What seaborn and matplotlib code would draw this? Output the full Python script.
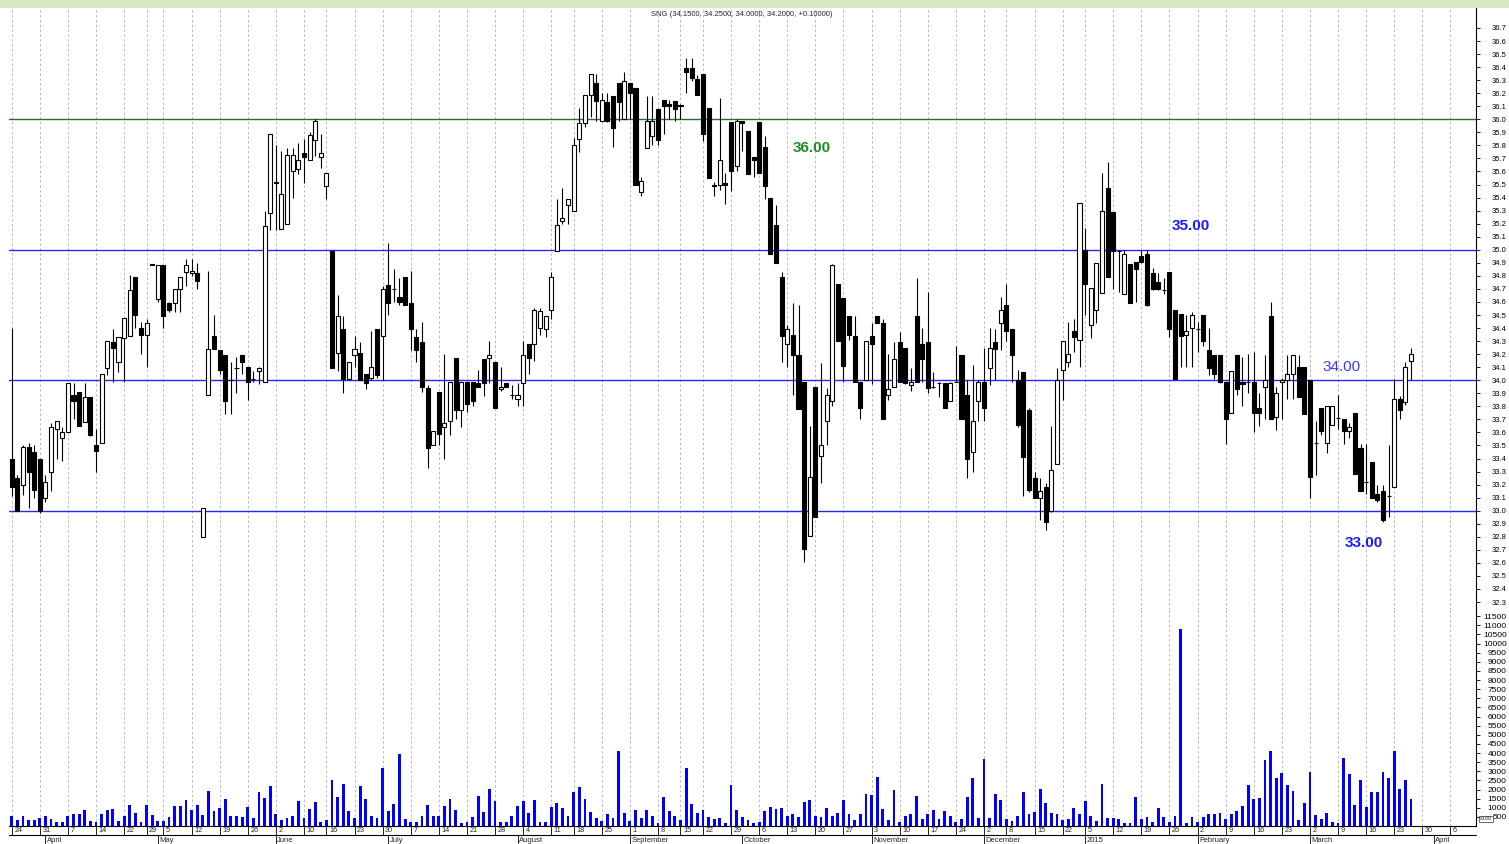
import numpy as np
import pandas as pd
import matplotlib
matplotlib.use("Agg")
import matplotlib.pyplot as plt
import matplotlib.transforms as mtransforms
from matplotlib.patches import Rectangle
from matplotlib.lines import Line2D
import seaborn as sns

# ---------------- data ----------------
open_ = [
    33.40, 33.25, 33.20, 33.49, 33.45, 33.40, 33.10, 33.30, 33.63, 33.56,
    33.60, 33.89, 33.91, 33.68, 33.87, 33.50, 33.52, 34.09, 34.29, 34.14,
    34.32, 34.34, 34.79, 34.40, 34.35, 34.89, 34.62, 34.88, 34.59, 34.59,
    34.70, 34.83, 34.82, 34.82, 32.80, 33.89, 34.34, 34.23, 34.19, 34.00,
    34.09, 34.19, 34.10, 34.01, 34.07, 33.99, 35.28, 35.51, 35.16, 35.20,
    35.60, 35.62, 35.74, 35.69, 35.84, 35.71, 35.49, 34.99, 34.21, 34.39,
    34.01, 34.19, 34.21, 34.05, 34.02, 34.39, 34.34, 34.73, 34.70, 34.64,
    34.79, 34.59, 34.33, 34.29, 33.94, 33.50, 33.91, 33.64, 33.69, 34.17,
    33.77, 33.99, 33.99, 33.98, 34.16, 34.17, 34.14, 33.93, 33.98, 33.89,
    33.86, 33.98, 34.28, 34.28, 34.40, 34.39, 34.54, 34.99, 35.22, 35.34,
    35.30, 35.85, 35.97, 36.19, 36.28, 35.99, 36.13, 36.18, 36.28, 36.00,
    36.28, 36.24, 35.44, 35.78, 35.87, 36.08, 36.15, 36.12, 36.14, 36.11,
    36.39, 36.39, 36.31, 36.35, 36.09, 35.50, 35.50, 35.51, 35.98, 35.64,
    35.99, 35.91, 35.71, 35.98, 35.79, 35.40, 35.19, 34.79, 34.28, 34.35,
    34.19, 33.99, 32.81, 33.95, 33.42, 33.69, 33.84, 34.74, 34.63, 34.49,
    34.34, 33.99, 34.00, 34.34, 34.49, 34.44, 33.89, 33.95, 34.29, 34.25,
    33.96, 34.49, 34.28, 34.29, 33.95, 33.98, 33.98, 33.84, 33.99, 34.19,
    33.89, 33.45, 33.84, 33.99, 34.09, 34.29, 34.44, 34.58, 34.39, 34.00,
    34.06, 33.77, 33.25, 33.10, 33.18, 33.00, 33.36, 34.08, 34.14, 34.38,
    34.31, 35.00, 34.42, 34.54, 34.67, 35.47, 35.29, 34.99, 34.66, 34.89,
    34.91, 34.95, 34.97, 34.82, 34.75, 34.69, 34.83, 34.54, 34.51, 34.35,
    34.40, 34.39, 34.50, 34.23, 34.19, 34.19, 33.99, 33.75, 34.19, 33.99,
    33.99, 33.99, 33.79, 33.95, 34.49, 33.72, 33.99, 34.00, 34.05, 34.10,
    34.10, 34.00, 33.52, 33.79, 33.52, 33.66, 33.71, 33.70, 33.61, 33.75,
    33.48, 33.22, 33.37, 33.13, 33.15, 33.11, 33.18, 33.86, 33.83, 34.15,
]
high = [
    34.40, 33.27, 33.50, 33.52, 33.50, 33.40, 33.27, 33.67, 33.69, 33.64,
    33.98, 33.98, 33.91, 33.98, 33.87, 33.63, 34.05, 34.30, 34.39, 34.33,
    34.48, 34.81, 34.79, 34.45, 34.47, 34.89, 34.88, 34.88, 34.60, 34.70,
    34.79, 34.93, 34.93, 34.90, 33.02, 34.84, 34.50, 34.23, 34.19, 34.14,
    34.18, 34.19, 34.10, 34.07, 34.10, 35.30, 35.89, 35.80, 35.76, 35.78,
    35.78, 35.82, 35.85, 35.90, 36.00, 35.89, 35.59, 34.99, 34.65, 34.49,
    34.14, 34.34, 34.29, 34.05, 34.38, 34.39, 34.72, 35.05, 34.85, 34.78,
    34.79, 34.84, 34.39, 34.45, 33.96, 33.61, 33.91, 34.20, 33.99, 34.17,
    33.99, 33.99, 33.99, 34.08, 34.16, 34.30, 34.14, 34.10, 33.98, 33.96,
    33.98, 34.30, 34.28, 34.55, 34.55, 34.49, 34.83, 35.39, 35.47, 35.39,
    35.86, 36.09, 36.19, 36.35, 36.35, 36.20, 36.20, 36.18, 36.28, 36.36,
    36.28, 36.24, 35.56, 36.18, 36.18, 36.08, 36.15, 36.15, 36.14, 36.12,
    36.47, 36.47, 36.34, 36.35, 36.09, 35.52, 36.16, 35.59, 35.98, 36.00,
    35.99, 35.91, 35.71, 35.98, 35.87, 35.40, 35.34, 34.83, 34.42, 34.59,
    34.58, 33.99, 33.65, 33.95, 34.13, 33.94, 34.89, 34.74, 34.63, 34.49,
    34.49, 33.99, 34.30, 34.44, 34.49, 34.47, 34.20, 34.29, 34.37, 34.25,
    34.09, 34.78, 34.40, 34.68, 34.06, 33.99, 33.98, 33.99, 34.26, 34.19,
    34.00, 34.12, 34.00, 34.25, 34.40, 34.39, 34.64, 34.74, 34.39, 34.08,
    34.06, 33.79, 33.30, 33.25, 33.21, 33.65, 34.09, 34.30, 34.45, 34.47,
    35.36, 35.17, 34.71, 34.90, 35.59, 35.67, 35.29, 35.00, 35.00, 34.89,
    34.91, 35.00, 35.00, 34.86, 34.82, 34.78, 34.83, 34.54, 34.51, 34.50,
    34.52, 34.45, 34.50, 34.40, 34.19, 34.19, 33.99, 34.07, 34.19, 34.18,
    34.20, 34.22, 33.90, 34.19, 34.60, 33.95, 34.02, 34.19, 34.19, 34.19,
    34.10, 34.00, 33.69, 33.79, 33.80, 33.80, 33.89, 33.70, 33.67, 33.75,
    33.51, 33.51, 33.37, 33.20, 33.20, 33.50, 34.01, 33.88, 34.14, 34.25,
]
low = [
    33.11, 33.00, 33.12, 33.02, 33.10, 32.98, 33.07, 33.15, 33.40, 33.38,
    33.60, 33.70, 33.65, 33.68, 33.57, 33.30, 33.52, 34.04, 33.99, 34.06,
    33.99, 34.34, 34.40, 34.20, 34.10, 34.88, 34.60, 34.40, 34.52, 34.52,
    34.52, 34.72, 34.80, 34.70, 32.80, 33.89, 34.24, 34.05, 33.74, 33.74,
    33.90, 34.05, 33.85, 33.99, 33.97, 33.99, 35.15, 35.15, 35.16, 35.20,
    35.40, 35.58, 35.51, 35.69, 35.72, 35.63, 35.39, 34.09, 34.07, 33.90,
    34.00, 34.10, 34.00, 33.93, 34.00, 34.02, 34.00, 34.50, 34.60, 34.58,
    34.58, 34.23, 34.14, 33.91, 33.33, 33.50, 33.50, 33.40, 33.58, 33.70,
    33.64, 33.76, 33.80, 33.95, 33.88, 33.98, 33.79, 33.92, 33.95, 33.86,
    33.80, 33.80, 34.05, 34.15, 34.35, 34.33, 34.47, 34.99, 35.20, 35.20,
    35.30, 35.75, 35.94, 36.02, 35.99, 35.99, 35.98, 35.79, 35.99, 36.00,
    36.00, 35.50, 35.41, 35.78, 35.80, 35.80, 35.89, 36.00, 35.99, 36.00,
    36.20, 36.29, 36.19, 35.83, 35.55, 35.41, 35.46, 35.35, 35.45, 35.60,
    35.76, 35.58, 35.56, 35.59, 35.39, 34.97, 34.90, 34.14, 34.10, 33.89,
    33.78, 32.61, 32.81, 32.95, 33.21, 33.50, 33.80, 34.30, 33.99, 34.31,
    33.99, 33.70, 34.00, 33.97, 34.44, 33.70, 33.85, 33.95, 33.99, 33.97,
    33.92, 33.99, 33.99, 33.90, 33.94, 33.87, 33.79, 33.84, 33.99, 33.70,
    33.25, 33.30, 33.69, 33.69, 33.96, 34.00, 34.23, 34.30, 33.99, 33.64,
    33.11, 33.14, 33.10, 32.93, 32.85, 32.99, 33.36, 33.85, 34.10, 34.22,
    34.10, 34.50, 34.32, 34.44, 34.67, 34.79, 34.70, 34.68, 34.66, 34.59,
    34.60, 34.90, 34.57, 34.69, 34.69, 34.66, 34.33, 34.01, 34.10, 34.10,
    34.10, 34.22, 34.26, 34.04, 34.01, 33.98, 33.51, 33.75, 33.89, 33.80,
    33.90, 33.60, 33.65, 33.70, 33.70, 33.62, 33.70, 33.86, 33.86, 33.87,
    33.74, 33.10, 33.27, 33.58, 33.44, 33.66, 33.63, 33.51, 33.56, 33.28,
    33.15, 33.13, 33.10, 33.07, 32.91, 32.95, 33.18, 33.70, 33.81, 34.00,
]
close = [
    33.18, 33.00, 33.49, 33.30, 33.16, 33.00, 33.22, 33.64, 33.69, 33.60,
    33.98, 33.84, 33.65, 33.87, 33.58, 33.46, 34.05, 34.30, 34.25, 34.33,
    34.48, 34.69, 34.50, 34.35, 34.44, 34.88, 34.88, 34.49, 34.54, 34.70,
    34.79, 34.88, 34.84, 34.76, 33.02, 34.24, 34.24, 34.08, 33.84, 34.00,
    34.09, 34.14, 33.99, 34.01, 34.09, 35.18, 35.89, 35.52, 35.43, 35.73,
    35.73, 35.69, 35.71, 35.88, 35.99, 35.74, 35.59, 34.09, 34.49, 34.01,
    34.14, 34.24, 34.00, 33.98, 34.10, 34.04, 34.70, 34.59, 34.70, 34.60,
    34.58, 34.39, 34.23, 33.95, 33.48, 33.61, 33.59, 33.67, 33.99, 33.77,
    33.99, 33.82, 33.84, 33.95, 33.98, 34.19, 33.79, 33.95, 33.95, 33.89,
    33.89, 34.19, 34.17, 34.54, 34.53, 34.49, 34.79, 35.19, 35.24, 35.39,
    35.80, 35.97, 36.19, 36.35, 36.14, 36.15, 35.99, 35.93, 36.13, 36.29,
    36.20, 35.50, 35.53, 35.99, 35.99, 35.84, 36.10, 36.10, 36.08, 36.10,
    36.36, 36.32, 36.19, 35.89, 35.55, 35.49, 35.69, 35.50, 35.60, 35.99,
    35.97, 35.58, 35.69, 35.59, 35.49, 34.97, 34.90, 34.34, 34.39, 34.19,
    33.78, 32.71, 33.26, 32.95, 33.50, 33.89, 34.88, 34.30, 34.11, 34.35,
    33.99, 33.79, 34.30, 34.28, 34.44, 33.70, 33.93, 34.16, 33.99, 33.98,
    33.99, 33.99, 34.16, 33.94, 33.95, 33.98, 33.79, 33.98, 33.99, 33.70,
    33.40, 33.69, 33.99, 33.79, 34.25, 34.24, 34.54, 34.38, 34.19, 33.66,
    33.41, 33.16, 33.10, 33.15, 32.91, 33.31, 34.00, 34.30, 34.20, 34.33,
    35.36, 34.74, 34.71, 34.90, 35.30, 34.79, 34.99, 34.99, 34.97, 34.59,
    34.85, 34.91, 34.58, 34.70, 34.70, 34.69, 34.39, 34.01, 34.34, 34.38,
    34.50, 34.39, 34.30, 34.09, 34.05, 33.99, 33.70, 34.07, 33.93, 33.97,
    33.99, 33.75, 33.75, 34.00, 33.70, 33.90, 34.00, 34.05, 34.19, 33.87,
    33.74, 33.26, 33.52, 33.61, 33.80, 33.80, 33.71, 33.61, 33.64, 33.28,
    33.15, 33.22, 33.10, 33.08, 32.93, 33.11, 33.86, 33.77, 34.10, 34.20,
]
volume = [
    570, 355, 570, 320, 355, 446, 570, 410, 210, 245,
    570, 680, 665, 900, 263, 210, 645, 866, 957, 263,
    537, 1140, 720, 210, 1140, 590, 263, 263, 500, 1103,
    1103, 1450, 866, 1140, 590, 1925, 830, 1012, 1487, 570,
    570, 482, 1030, 428, 1870, 1524, 2180, 680, 355, 446,
    570, 1377, 428, 940, 1305, 210, 320, 2510, 1597, 2290,
    830, 428, 2180, 1487, 570, 464, 3187, 830, 1195, 3972,
    410, 210, 210, 570, 1140, 537, 570, 1103, 1470, 866,
    190, 245, 482, 1670, 793, 2017, 1360, 210, 210, 570,
    1103, 1396, 720, 1450, 245, 245, 1067, 1286, 976, 537,
    1852, 2126, 1487, 793, 428, 300, 645, 446, 4118, 738,
    263, 885, 428, 866, 537, 190, 1597, 830, 570, 355,
    3187, 1195, 720, 866, 482, 390, 428, 190, 2236, 866,
    482, 320, 172, 245, 830, 1050, 940, 1012, 555, 680,
    500, 1341, 1450, 570, 482, 1012, 570, 720, 1414, 680,
    355, 645, 1761, 1725, 2675, 940, 320, 1999, 245, 570,
    645, 1633, 390, 680, 885, 390, 848, 570, 210, 390,
    1579, 2638, 428, 3679, 428, 1761, 1432, 390, 300, 537,
    1870, 645, 775, 2017, 1268, 720, 680, 355, 390, 976,
    680, 1360, 570, 300, 2290, 428, 428, 390, 190, 190,
    1597, 390, 482, 245, 994, 519, 210, 537, 10787, 190,
    482, 210, 482, 680, 645, 738, 390, 680, 830, 1122,
    2273, 1505, 1524, 3606, 4100, 2657, 2912, 2236, 1907, 320,
    1286, 2985, 610, 410, 738, 245, 150, 3716, 2876, 1140,
    2547, 1067, 1870, 1870, 2949, 2620, 4118, 2017, 2510, 1487,
]

# trading-day index of the weekly labels and of the month starts
week_ticks = [0, 5, 10, 15, 20, 24, 27, 32, 37, 42, 47, 52, 56, 61, 66, 71, 76, 81,
              86, 91, 96, 100, 105, 110, 115, 119, 123, 128, 133, 138, 143, 148, 153,
              158, 163, 168, 173, 177, 182, 187, 191, 196, 201, 206, 211, 216, 221,
              226, 231, 236, 241, 246, 251, 256]
week_labels = ['24', '31', '7', '14', '22', '29', '5', '12', '19', '26', '2', '10', '16',
               '23', '30', '7', '14', '21', '28', '4', '11', '18', '25', '1', '8', '15',
               '22', '29', '6', '13', '20', '27', '3', '10', '17', '24', '2', '8', '15',
               '22', '5', '12', '19', '26', '2', '9', '16', '23', '2', '9', '16', '23',
               '30', '6']
month_ticks = [6, 26, 47, 67, 90, 110, 130, 153, 173, 191, 211, 231, 253]
month_labels = ['April', 'May', 'June', 'July', 'August', 'September', 'October',
                'November', 'December', '2015', 'February', 'March', 'April']

levels = [36.0, 35.0, 34.0, 33.0]
title = "SNG (34.1500, 34.2500, 34.0000, 34.2000, +0.10000)"

# ---------------- style ----------------
sns.set_theme(style="white")
plt.rcParams['font.family'] = ['Liberation Sans', 'DejaVu Sans']

W, H = 1509, 844
fig = plt.figure(figsize=(W / 100, H / 100), dpi=100)
fig.patch.set_facecolor('white')


def fx(px):
    return px / W


def fy(py):
    return 1 - py / H


L_PX, R_PX = 9, 1476
ax_p = fig.add_axes([fx(L_PX), fy(610), fx(R_PX - L_PX), (610 - 8) / H])
ax_v = fig.add_axes([fx(L_PX), fy(826), fx(R_PX - L_PX), (826 - 610) / H])

fig.add_artist(Rectangle((0, fy(8)), 1, 8 / H, transform=fig.transFigure,
                         facecolor='#d9e6c0', edgecolor='none'))

o = np.array(open_)
h = np.array(high)
l = np.array(low)
c = np.array(close)
idx = np.arange(len(c))

XMIN, XMAX = -0.48, 260.55

# grid
for ax in (ax_p, ax_v):
    ax.set_facecolor('white')
    for t in week_ticks:
        ax.axvline(t, color='#b8b8b8', lw=0.7, ls=(0, (2.5, 2.5)), zorder=0)

# level lines
ax_p.axhline(levels[0], color='#2e6a2e', lw=1.0, zorder=1)
for lv in levels[1:]:
    ax_p.axhline(lv, color='#2626ff', lw=1.0, zorder=1)

# candles
up = c >= o
bottom = np.minimum(o, c)
height = np.abs(c - o)
ax_p.vlines(idx, l, h, color='black', lw=0.8, zorder=2)
ax_p.bar(idx[up], height[up], bottom=bottom[up], width=0.72, facecolor='white',
         edgecolor='black', linewidth=0.8, zorder=3)
ax_p.bar(idx[~up], height[~up], bottom=bottom[~up], width=0.72, facecolor='black',
         edgecolor='black', linewidth=0.8, zorder=3)

# level annotations
ax_p.text(142.4, 35.78, '36.00', color='#1e8c1e', fontweight='bold', fontsize=11,
          ha='center', va='center')
ax_p.text(209.8, 35.18, '35.00', color='#1a1aff', fontweight='bold', fontsize=11,
          ha='center', va='center')
ax_p.text(236.7, 34.10, '34.00', color='#3a3aff', fontsize=11, ha='center', va='center')
ax_p.text(240.5, 32.75, '33.00', color='#1a1aff', fontweight='bold', fontsize=11,
          ha='center', va='center')

# volume bars with seaborn
df = pd.DataFrame({'idx': idx, 'volume': volume})
sns.barplot(data=df, x='idx', y='volume', native_scale=True, color='#0000ff',
            saturation=1, width=0.5, errorbar=None, linewidth=0, ax=ax_v, zorder=2)
ax_v.set_xlabel('')
ax_v.set_ylabel('')

# axes limits / ticks
ax_p.set_xlim(XMIN, XMAX)
ax_v.set_xlim(XMIN, XMAX)
ax_p.set_ylim(32.239, 36.853)
ax_v.set_ylim(0, 11839)

pticks = np.round(np.arange(32.3, 36.71, 0.1), 1)
ax_p.yaxis.tick_right()
ax_p.set_yticks(pticks)
ax_p.set_yticklabels([f'{v:.1f}' for v in pticks], ha='right')
ax_p.tick_params(axis='y', direction='out', length=3.2, width=0.6, labelsize=5.5,
                 pad=19, colors='black', right=True, left=False)

vticks = np.arange(500, 11501, 500)
ax_v.yaxis.tick_right()
ax_v.set_yticks(vticks)
ax_v.set_yticklabels([str(v) for v in vticks], ha='right')
ax_v.tick_params(axis='y', direction='out', length=3.2, width=0.6, labelsize=6,
                 pad=19, colors='black', right=True, left=False)

for ax in (ax_p, ax_v):
    ax.tick_params(axis='x', bottom=False, top=False, labelbottom=False)
    ax.grid(False)
    for s in ('top', 'left'):
        ax.spines[s].set_visible(False)
    ax.spines['right'].set_color('black')
    ax.spines['right'].set_linewidth(0.8)
ax_p.spines['bottom'].set_visible(False)
ax_v.spines['bottom'].set_color('black')
ax_v.spines['bottom'].set_linewidth(0.8)

# date rows below the volume panel
trans = mtransforms.blended_transform_factory(ax_v.transData, fig.transFigure)
for t, lab in zip(week_ticks, week_labels):
    ax_v.add_line(Line2D([t, t], [fy(826), fy(835)], transform=trans, color='black',
                         lw=0.6, clip_on=False))
    ax_v.annotate(lab, xy=(t, fy(830.5)), xycoords=trans, xytext=(2.5, 0),
                  textcoords='offset pixels', ha='left', va='center', fontsize=5.2,
                  annotation_clip=False)
fig.add_artist(Line2D([fx(L_PX), fx(R_PX)], [fy(835), fy(835)], color='black', lw=0.8))
for t, lab in zip(month_ticks, month_labels):
    ax_v.add_line(Line2D([t, t], [fy(835), fy(844)], transform=trans, color='black',
                         lw=0.6, clip_on=False))
    ax_v.annotate(lab, xy=(t, fy(840)), xycoords=trans, xytext=(1.5, 0),
                  textcoords='offset pixels', ha='left', va='center', fontsize=5.5,
                  annotation_clip=False)

fig.text(fx(742), fy(14), title, ha='center', va='center', fontsize=5.5)
fig.text(fx(1486), fy(819), 'x100', ha='center', va='center', fontsize=4,
         bbox=dict(boxstyle='square,pad=0.15', fc='white', ec='black', lw=0.4))

fig.savefig('out.png', dpi=100)
